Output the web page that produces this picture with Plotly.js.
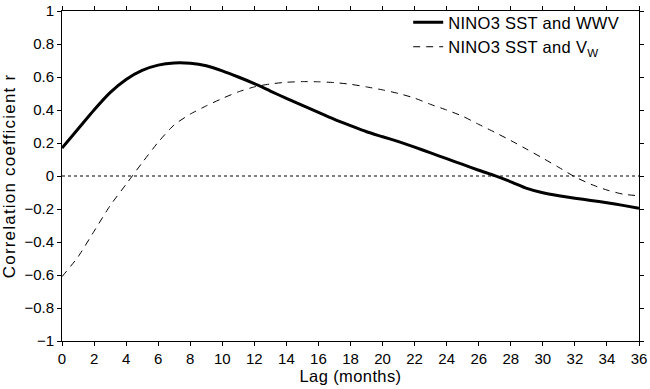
<!DOCTYPE html>
<html>
<head>
<meta charset="utf-8">
<script src="https://cdn.plot.ly/plotly-3.0.1.min.js"></script>
<style>
html,body{margin:0;padding:0;background:#fff;}
#chart{width:650px;height:389px;}
text.legendtext{letter-spacing:0.3px;}
text.xtitle{letter-spacing:0.4px;}
text.ytitle{letter-spacing:1.2px;}
</style>
</head>
<body>
<div id="chart"></div>
<script>
const lags = [0,1,2,3,4,5,6,7,8,9,10,11,12,13,14,15,16,17,18,19,20,21,22,23,24,25,26,27,28,29,30,31,32,33,34,35,36];
const wwvCorr = [0.17,0.285,0.40,0.505,0.585,0.64,0.672,0.685,0.683,0.668,0.637,0.60,0.56,0.515,0.47,0.428,0.385,0.343,0.305,0.268,0.238,0.208,0.175,0.14,0.105,0.07,0.035,0.002,-0.035,-0.075,-0.102,-0.12,-0.135,-0.148,-0.162,-0.178,-0.196];
const vwCorr = [-0.61,-0.49,-0.335,-0.18,-0.05,0.08,0.205,0.31,0.375,0.425,0.47,0.51,0.54,0.558,0.568,0.572,0.571,0.566,0.556,0.54,0.522,0.50,0.472,0.434,0.40,0.362,0.313,0.265,0.215,0.162,0.108,0.052,-0.005,-0.05,-0.085,-0.11,-0.12];
const seriesNames = ["NINO3 SST and WWV", "NINO3 SST and V<sub>W</sub>"];
const xTicks = [0,2,4,6,8,10,12,14,16,18,20,22,24,26,28,30,32,34,36];
const yTicks = [-1,-0.8,-0.6,-0.4,-0.2,0,0.2,0.4,0.6,0.8,1];
const yTickText = ["\u22121","\u22120.8","\u22120.6","\u22120.4","\u22120.2","0","0.2","0.4","0.6","0.8","1"];

const fam = "Liberation Sans, Arial, Helvetica, sans-serif";
const tickFont = {family: fam, size: 15, color: "#000"};
const titleFont = {family: fam, size: 16.5, color: "#000"};
const yTitleFont = {family: fam, size: 17, color: "#000"};
const legendFont = {family: fam, size: 16.5, color: "#000"};

const traces = [
  {x: lags, y: wwvCorr, type: "scatter", mode: "lines", name: seriesNames[0],
   line: {color: "#000", width: 3, shape: "spline", smoothing: 0.6}},
  {x: lags, y: vwCorr, type: "scatter", mode: "lines", name: seriesNames[1],
   line: {color: "#000", width: 1, dash: "7px,6px", shape: "spline", smoothing: 0.6}}
];

const layout = {
  width: 650, height: 389,
  margin: {l: 62, r: 11, t: 11, b: 48, autoexpand: false},
  paper_bgcolor: "#fff", plot_bgcolor: "#fff",
  font: tickFont,
  showlegend: true,
  legend: {x: 0.60, xanchor: "left", y: 1.018, yanchor: "top", bgcolor: "rgba(0,0,0,0)",
           font: legendFont, itemwidth: 30},
  xaxis: {range: [0, 36], tickvals: xTicks, ticktext: xTicks.map(String),
          ticks: "outside", ticklen: 4, tickwidth: 1, tickcolor: "#000",
          showline: true, linecolor: "#000", linewidth: 1, mirror: "ticks",
          showgrid: false, zeroline: false, tickfont: tickFont, automargin: false,
          title: {text: "Lag (months)", font: titleFont, standoff: 3}},
  yaxis: {range: [-1, 1], tickvals: yTicks, ticktext: yTickText,
          ticks: "outside", ticklen: 4, tickwidth: 1, tickcolor: "#000",
          showline: true, linecolor: "#000", linewidth: 1, mirror: "ticks",
          showgrid: false, zeroline: false, tickfont: tickFont, automargin: false,
          title: {text: "Correlation coefficient r", font: yTitleFont, standoff: 4}},
  shapes: [{type: "line", xref: "paper", x0: 0, x1: 1, yref: "y", y0: 0, y1: 0,
            line: {color: "#000", width: 1, dash: "dot"}}]
};

Plotly.newPlot("chart", traces, layout, {displayModeBar: false, staticPlot: true});
</script>
</body>
</html>
